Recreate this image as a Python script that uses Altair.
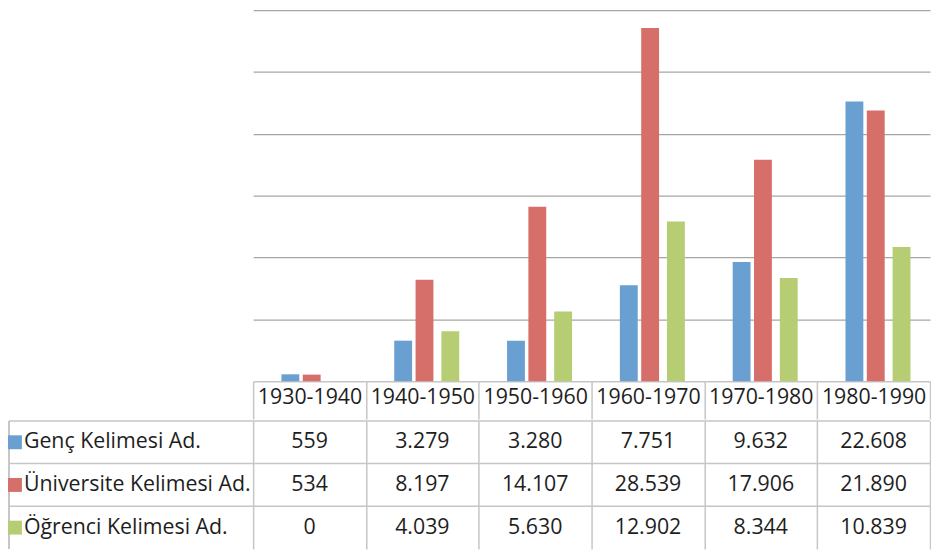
import altair as alt
import pandas as pd

categories = ["1930-1940", "1940-1950", "1950-1960", "1960-1970", "1970-1980", "1980-1990"]
series = ["Genç Kelimesi Ad.", "Üniversite Kelimesi Ad.", "Öğrenci Kelimesi Ad."]
genc = [559, 3279, 3280, 7751, 9632, 22608]
universite = [534, 8197, 14107, 28539, 17906, 21890]
ogrenci = [0, 4039, 5630, 12902, 8344, 10839]
colors = ["#6a9fd2", "#d66f69", "#b6cd73"]

values = {series[0]: genc, series[1]: universite, series[2]: ogrenci}
rows = []
for s in series:
    for c, v in zip(categories, values[s]):
        rows.append({"cat": c, "series": s, "value": v,
                     "label": f"{v:,}".replace(",", ".")})
df = pd.DataFrame(rows)

W = 682
H_PLOT = 374
H_TABLE = 129
LEFT = -246
FONT = "Open Sans"
FS = 21.5
GRID = "#a6a6a6"
LINE = "#c6c6c6"

color_scale = alt.Scale(domain=series, range=colors)
x_scale = alt.Scale(domain=categories, paddingInner=0, paddingOuter=0)

x_head = alt.X("cat:N", sort=categories, scale=x_scale,
               axis=alt.Axis(title=None, orient="bottom", tickBand="extent",
                             tickSize=38, tickColor=LINE, tickWidth=1.5,
                             domainColor=LINE, domainWidth=1.5,
                             labelFont=FONT, labelFontSize=FS, labelColor="#1e1e1e",
                             labelBaseline="middle", labelPadding=-22,
                             labelAngle=0, grid=False))
y_val = alt.Y("value:Q", scale=alt.Scale(domain=[0, 30000], nice=False),
              axis=alt.Axis(title=None, labels=False, ticks=False, domain=False,
                            values=[5000, 10000, 15000, 20000, 25000, 30000],
                            grid=True, gridColor=GRID, gridWidth=1.2))

# bar centre offsets (px) measured from the start of each category band
offsets = [37.5, 59, 85]
bar_layers = []
for s, off in zip(series, offsets):
    bar_layers.append(
        alt.Chart(df).transform_filter(alt.datum.series == s).mark_bar(size=18).encode(
            x=x_head,
            xOffset=alt.value(off),
            y=y_val,
            color=alt.Color("series:N", scale=color_scale, legend=None),
        )
    )

bars = alt.layer(*bar_layers).properties(width=W, height=H_PLOT)

y_tbl = alt.Y("series:N", sort=series,
              scale=alt.Scale(domain=series, paddingInner=0, paddingOuter=0), axis=None)
x_tbl = alt.X("cat:N", sort=categories, scale=x_scale,
              axis=alt.Axis(title=None, labels=False, ticks=False, domain=False,
                            grid=True, tickBand="extent", gridColor=LINE, gridWidth=1.5))

tbase = alt.Chart(df)
cells = tbase.mark_text(font=FONT, fontSize=FS, color="#1e1e1e").encode(
    x=x_tbl, y=y_tbl, text="label:N")

legend_df = pd.DataFrame({"series": series})
lbase = alt.Chart(legend_df)
hlines = lbase.mark_rule(color=LINE, strokeWidth=1.5).encode(
    y=alt.Y("series:N", sort=series, bandPosition=0,
            scale=alt.Scale(domain=series, paddingInner=0, paddingOuter=0), axis=None),
    x=alt.value(LEFT), x2=alt.value(W))
vleft = lbase.mark_rule(color=LINE, strokeWidth=1.5).encode(
    x=alt.value(LEFT), y=alt.value(0), y2=alt.value(H_TABLE))
swatch = lbase.mark_square(size=196, opacity=1).encode(
    x=alt.value(LEFT + 6), y=y_tbl,
    color=alt.Color("series:N", scale=color_scale, legend=None))
names = lbase.mark_text(font=FONT, fontSize=FS, color="#1e1e1e", align="left").encode(
    x=alt.value(LEFT + 15), y=y_tbl, text="series:N")

table = alt.layer(cells, hlines, vleft, swatch, names).properties(width=W, height=H_TABLE)

chart = alt.vconcat(bars, table, spacing=0).properties(
    padding=0, background="white").configure_view(stroke=None)

chart.save("out.html", embed_options={"renderer": "svg", "actions": False})
